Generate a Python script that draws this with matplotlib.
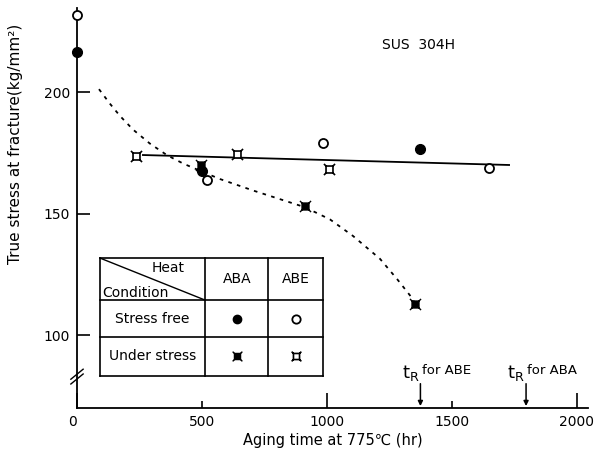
import matplotlib.pyplot as plt
import numpy as np
from matplotlib.path import Path

# data
# stress free
aba_free_t = [0, 500, 1375]
aba_free_s = [216.5, 167.5, 176.5]
abe_free_t = [0, 520, 985, 1650]
abe_free_s = [231.7, 163.8, 179.0, 168.7]
# under stress
aba_stress_t = [495, 913, 1354]
aba_stress_s = [170.0, 153.3, 112.8]
abe_stress_t = [237, 642, 1007]
abe_stress_s = [173.8, 174.6, 168.3]

# fitted solid line (ABE)
fit_t = [264, 1730]
fit_s = [174.1, 170.0]

# dashed curve (ABA under stress)
curve_t = [88, 132, 172, 224, 292, 361, 425, 493, 573, 705, 841, 913,
           1013, 1105, 1213, 1282, 1342, 1354]
curve_s = [201.2, 195.2, 190.2, 184.6, 178.8, 174.0, 170.6, 167.6, 164.2,
           159.5, 155.0, 152.6, 147.6, 140.8, 131.4, 123.0, 115.2, 112.8]

# rupture times
tr_labels = ['ABE', 'ABA']
tr_times = [1375, 1798]

# square marker with little corner spikes
verts = [(-1, -1), (1, -1), (1, 1), (-1, 1), (-1, -1),
         (1, 1), (1.6, 1.6), (-1, 1), (-1.6, 1.6),
         (-1, -1), (-1.6, -1.6), (1, -1), (1.6, -1.6)]
codes = [Path.MOVETO, Path.LINETO, Path.LINETO, Path.LINETO, Path.CLOSEPOLY,
         Path.MOVETO, Path.LINETO, Path.MOVETO, Path.LINETO,
         Path.MOVETO, Path.LINETO, Path.MOVETO, Path.LINETO]
sq = Path(verts, codes)

fig = plt.figure(figsize=(6.06, 4.51), dpi=100)
ax = fig.add_axes([77/606, 43/451, 511/606, 400/451])

ax.plot(fit_t, fit_s, color='black', lw=1.3)
ax.plot(curve_t, curve_s, color='black', lw=1.3, ls=(0, (2, 3)))

ax.plot(aba_free_t, aba_free_s, 'o', color='black', ms=7, ls='none',
        clip_on=False, zorder=5)
ax.plot(abe_free_t, abe_free_s, 'o', mfc='white', mec='black', mew=1.3,
        ms=6.5, ls='none', clip_on=False, zorder=5)
ax.plot(aba_stress_t, aba_stress_s, marker=sq, color='black', mfc='black',
        ms=8, ls='none', clip_on=False, zorder=4)
ax.plot(abe_stress_t, abe_stress_s, marker=sq, mfc='white', mec='black',
        mew=1.2, ms=8, ls='none', clip_on=False, zorder=4)

ax.set_xlim(0, 2046)
ax.set_ylim(70, 234.6)
ax.spines['top'].set_visible(False)
ax.spines['right'].set_visible(False)
ax.spines['left'].set_linewidth(1.3)
ax.spines['bottom'].set_linewidth(1.3)

ax.set_xticks([0, 1000, 2000])
ax.set_xticks([500, 1500], minor=True)
ax.set_xticklabels(['0', '1000', '2000'])
ax.xaxis.set_minor_formatter(plt.FixedFormatter(['500', '1500']))
ax.tick_params(axis='x', which='major', direction='in', length=11, width=1.2,
               labelsize=10, pad=5)
ax.tick_params(axis='x', which='minor', direction='in', length=5, width=1.2,
               labelsize=10, pad=5)
ax.set_yticks([100, 150, 200])
ax.tick_params(axis='y', direction='in', length=9, width=1.2, labelsize=10,
               pad=5)
ax.get_xticklabels()[0].set_horizontalalignment('right')

ax.set_xlabel('Aging time at 775℃ (hr)', fontsize=10.5, labelpad=3)
ax.set_ylabel('True stress at fracture(kg/mm²)', fontsize=11)
ax.yaxis.set_label_coords(-0.105, 0.66)

# axis break mark
for dy in (0, 0.012):
    ax.plot([-0.012, 0.012], [0.06 + dy, 0.085 + dy], transform=ax.transAxes,
            color='black', lw=1.0, clip_on=False)

ax.text(1366, 219.3, 'SUS  304H', fontsize=10, ha='center', va='center')

# rupture time arrows
for lab, t in zip(tr_labels, tr_times):
    ax.annotate('', xy=(t, 70.8), xytext=(t, 80),
                arrowprops=dict(arrowstyle='-|>', color='black', lw=1.1,
                                mutation_scale=7, shrinkA=0, shrinkB=0))
    ax.text(t - 40, 84.5, r'$\mathregular{t_R}$', fontsize=13,
            ha='center', va='center')
    ax.text(t + 5, 85.5, 'for ' + lab, fontsize=9.5, ha='left', va='center')

# key table
tx = [92, 513, 766, 986]
ty = [131.7, 114.4, 99.2, 83.1]
for x in tx:
    ax.plot([x, x], [ty[0], ty[-1]], color='black', lw=1.2)
for y in ty:
    ax.plot([tx[0], tx[-1]], [y, y], color='black', lw=1.2)
ax.plot([tx[0], tx[1]], [ty[0], ty[1]], color='black', lw=1.0)
ax.text(365, 127.5, 'Heat', fontsize=10, ha='center', va='center')
ax.text(100, 117.5, 'Condition', fontsize=10, ha='left', va='center')
ax.text(640, 123, 'ABA', fontsize=10, ha='center', va='center')
ax.text(876, 123, 'ABE', fontsize=10, ha='center', va='center')
ax.text(302, 106.8, 'Stress free', fontsize=10, ha='center', va='center')
ax.text(302, 91.2, 'Under stress', fontsize=10, ha='center', va='center')
ax.plot([640], [106.8], 'o', color='black', ms=6)
ax.plot([876], [106.8], 'o', mfc='white', mec='black', mew=1.3, ms=6)
ax.plot([640], [91.2], marker=sq, color='black', ms=7)
ax.plot([876], [91.2], marker=sq, mfc='white', mec='black', mew=1.2, ms=7)

fig.savefig('out.png', dpi=100)
